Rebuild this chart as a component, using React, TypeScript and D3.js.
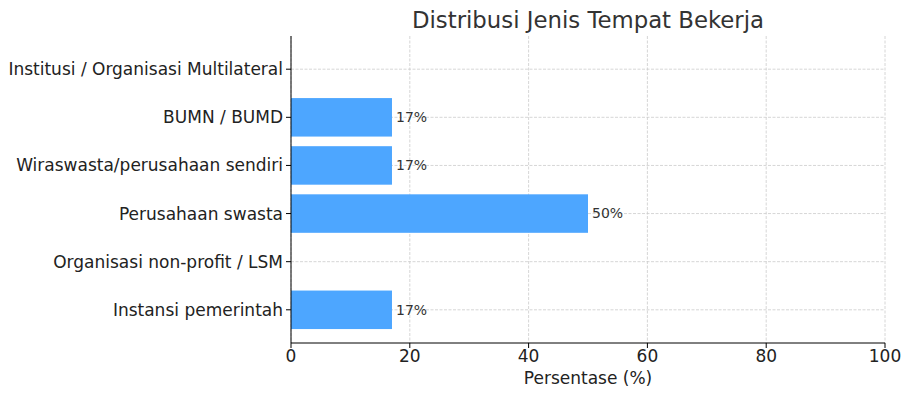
import React from "react";
import * as d3 from "d3";

const categories = [
  "Instansi pemerintah",
  "Organisasi non-profit / LSM",
  "Perusahaan swasta",
  "Wiraswasta/perusahaan sendiri",
  "BUMN / BUMD",
  "Institusi / Organisasi Multilateral",
];
const values = [17, 0, 50, 17, 17, 0];
const labels = ["17%", "", "50%", "17%", "17%", ""];
const xTicks = [0, 20, 40, 60, 80, 100];

const W = 912;
const H = 397;
const M = { left: 291, right: 885, top: 36, bottom: 343 };
const FONT = "DejaVu Sans, sans-serif";

export default function App() {
  const x = d3.scaleLinear().domain([0, 100]).range([M.left, M.right]);
  const y = d3.scaleLinear().domain([-0.69, 5.69]).range([M.bottom, M.top]);
  const bh = y(0) - y(0.8);
  return (
    <svg width={W} height={H} style={{ position: "absolute", left: 0, top: 0 }} fontFamily={FONT}>
      <rect width={W} height={H} fill="#fff" />
      {xTicks.map((t) => (
        <line key={"gx" + t} x1={x(t)} x2={x(t)} y1={M.top} y2={M.bottom} stroke="#cccccc" strokeWidth={0.8} strokeDasharray="3,1.5" />
      ))}
      {categories.map((c, i) => (
        <line key={"gy" + i} x1={M.left} x2={M.right} y1={y(i)} y2={y(i)} stroke="#cccccc" strokeWidth={0.8} strokeDasharray="3,1.5" />
      ))}
      {values.map((v, i) => (
        <rect key={"b" + i} x={x(0)} y={y(i) - bh / 2} width={x(v) - x(0)} height={bh} fill="#4DA6FF" />
      ))}
      {values.map((v, i) =>
        labels[i] ? (
          <text key={"l" + i} x={x(v) + 4} y={y(i)} dy="0.35em" fontSize={14} fill="#333">
            {labels[i]}
          </text>
        ) : null
      )}
      <line x1={M.left} x2={M.left} y1={M.top} y2={M.bottom} stroke="#000" strokeWidth={1} />
      <line x1={M.left} x2={M.right} y1={M.bottom} y2={M.bottom} stroke="#000" strokeWidth={1} />
      {categories.map((c, i) => (
        <g key={"yt" + i}>
          <line x1={M.left - 5} x2={M.left} y1={y(i)} y2={y(i)} stroke="#000" strokeWidth={1} />
          <text x={M.left - 8} y={y(i)} dy="0.35em" textAnchor="end" fontSize={17} fill="#222">
            {c}
          </text>
        </g>
      ))}
      {xTicks.map((t) => (
        <g key={"xt" + t}>
          <line x1={x(t)} x2={x(t)} y1={M.bottom} y2={M.bottom + 5} stroke="#000" strokeWidth={1} />
          <text x={x(t)} y={M.bottom + 19} textAnchor="middle" fontSize={17} fill="#222">
            {t}
          </text>
        </g>
      ))}
      <text x={(M.left + M.right) / 2} y={384} textAnchor="middle" fontSize={17} fill="#222">
        Persentase (%)
      </text>
      <text x={(M.left + M.right) / 2} y={28} textAnchor="middle" fontSize={22.8} fill="#333">
        Distribusi Jenis Tempat Bekerja
      </text>
    </svg>
  );
}
